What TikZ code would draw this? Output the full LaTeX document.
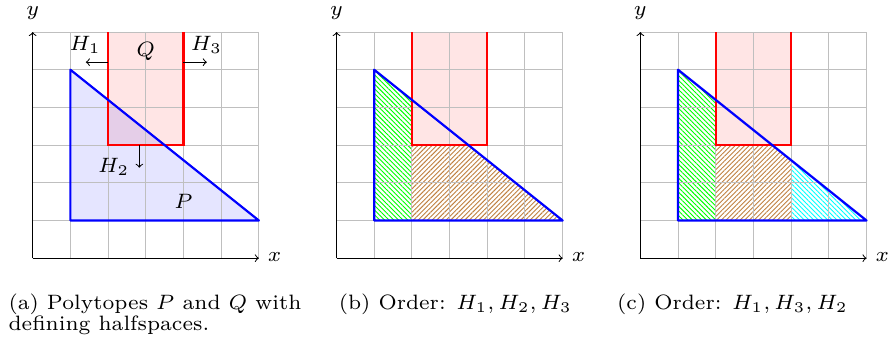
\documentclass[tikz,border=0pt]{standalone}
\usetikzlibrary{patterns.meta}
\begin{document}
\begin{tikzpicture}[x=18.85pt,y=18.85pt,
  every node/.style={font=\fontsize{7}{7.2}\selectfont, scale=1.486},
  gridline/.style={gray!50, line width=0.5pt, step=1},
  axis/.style={->, black, line width=0.5pt},
  qedge/.style={red, line width=1.1pt},
  pedge/.style={blue, line width=1.1pt, line join=round},
  qfill/.style={fill=red, fill opacity=0.1},
  pfill/.style={fill=blue, fill opacity=0.1},
  halfarrow/.style={->, black, line width=0.5pt},
  lbl/.style={inner sep=0pt},
  captext/.style={inner sep=0pt, anchor=base west, align=left},
  greenhatch/.style={pattern={Lines[angle=-45,distance=1.65pt,line width=0.45pt]}, pattern color=green},
  brownhatch/.style={pattern={Lines[angle=45,distance=1.65pt,line width=0.45pt]}, pattern color=brown},
  cyanhatch/.style={pattern={Lines[angle=-45,distance=1.65pt,line width=0.45pt]}, pattern color=cyan}]
\useasboundingbox (-0.867,-2.406) rectangle (22.77,6.85);

% ---------- panel (a) ----------
\begin{scope}
  \fill[qfill] (2,3) rectangle (4,6);
  \fill[pfill] (1,1) -- (1,5) -- (6,1) -- cycle;
  \draw[gridline] (0,0) grid (6,6);
  \coordinate (ao) at (0,0);
  \coordinate (ax) at (6,0);
  \coordinate (ay) at (0,6);
  \draw[axis] (ao) -- (ax);
  \draw[axis] (ao) -- (ay);
  \node[lbl] (axl) at (6.42,0.03) {$x$};
  \node[lbl] (ayl) at (0,6.5) {$y$};
  \draw[qedge] (2,6) -- (2,3) -- (4,3) -- (4,6);
  \draw[pedge] (1,1) -- (1,5) -- (6,1) -- cycle;
  \coordinate (h1s) at (2,5.2);
  \coordinate (h1e) at (1.41,5.2);
  \coordinate (h3s) at (4,5.2);
  \coordinate (h3e) at (4.62,5.2);
  \coordinate (h2s) at (2.83,3);
  \coordinate (h2e) at (2.83,2.4);
  \draw[halfarrow] (h1s) -- (h1e);
  \draw[halfarrow] (h3s) -- (h3e);
  \draw[halfarrow] (h2s) -- (h2e);
  \node[lbl] (h1l) at (1.39,5.66) {$H_1$};
  \node[lbl] (h3l) at (4.61,5.66) {$H_3$};
  \node[lbl] (h2l) at (2.15,2.42) {$H_2$};
  \node[lbl] (ql) at (3.0,5.48) {$Q$};
  \node[lbl] (pl) at (4.0,1.5) {$P$};
\end{scope}
\node[captext] (capa) at (-0.655,-1.92) {(a) Polytopes $P$ and $Q$ with\\defining halfspaces.};

% ---------- panel (b) ----------
\begin{scope}[xshift=8.06*18.85pt]
  \fill[greenhatch] (1,1) -- (1,5) -- (2,4.2) -- (2,1) -- cycle;
  \fill[brownhatch] (2,1) -- (2,3) -- (3.5,3) -- (6,1) -- cycle;
  \fill[qfill] (2,3) rectangle (4,6);
  \draw[gridline] (0,0) grid (6,6);
  \coordinate (bo) at (0,0);
  \coordinate (bx) at (6,0);
  \coordinate (by) at (0,6);
  \draw[axis] (bo) -- (bx);
  \draw[axis] (bo) -- (by);
  \node[lbl] (bxl) at (6.42,0.03) {$x$};
  \node[lbl] (byl) at (0,6.5) {$y$};
  \draw[qedge] (2,6) -- (2,3) -- (4,3) -- (4,6);
  \draw[pedge] (1,1) -- (1,5) -- (6,1) -- cycle;
\end{scope}
\node[captext] (capb) at (8.106,-1.35) {(b) Order: $H_1, H_2, H_3$};

% ---------- panel (c) ----------
\begin{scope}[xshift=16.12*18.85pt]
  \fill[greenhatch] (1,1) -- (1,5) -- (2,4.2) -- (2,1) -- cycle;
  \fill[brownhatch] (2,1) -- (2,3) -- (3.5,3) -- (4,2.6) -- (4,1) -- cycle;
  \fill[cyanhatch] (4,1) -- (4,2.6) -- (6,1) -- cycle;
  \fill[qfill] (2,3) rectangle (4,6);
  \draw[gridline] (0,0) grid (6,6);
  \coordinate (co) at (0,0);
  \coordinate (cx) at (6,0);
  \coordinate (cy) at (0,6);
  \draw[axis] (co) -- (cx);
  \draw[axis] (co) -- (cy);
  \node[lbl] (cxl) at (6.42,0.03) {$x$};
  \node[lbl] (cyl) at (0,6.5) {$y$};
  \draw[qedge] (2,6) -- (2,3) -- (4,3) -- (4,6);
  \draw[pedge] (1,1) -- (1,5) -- (6,1) -- cycle;
\end{scope}
\node[captext] (capc) at (15.49,-1.35) {(c) Order: $H_1, H_3, H_2$};
\end{tikzpicture}
\end{document}
